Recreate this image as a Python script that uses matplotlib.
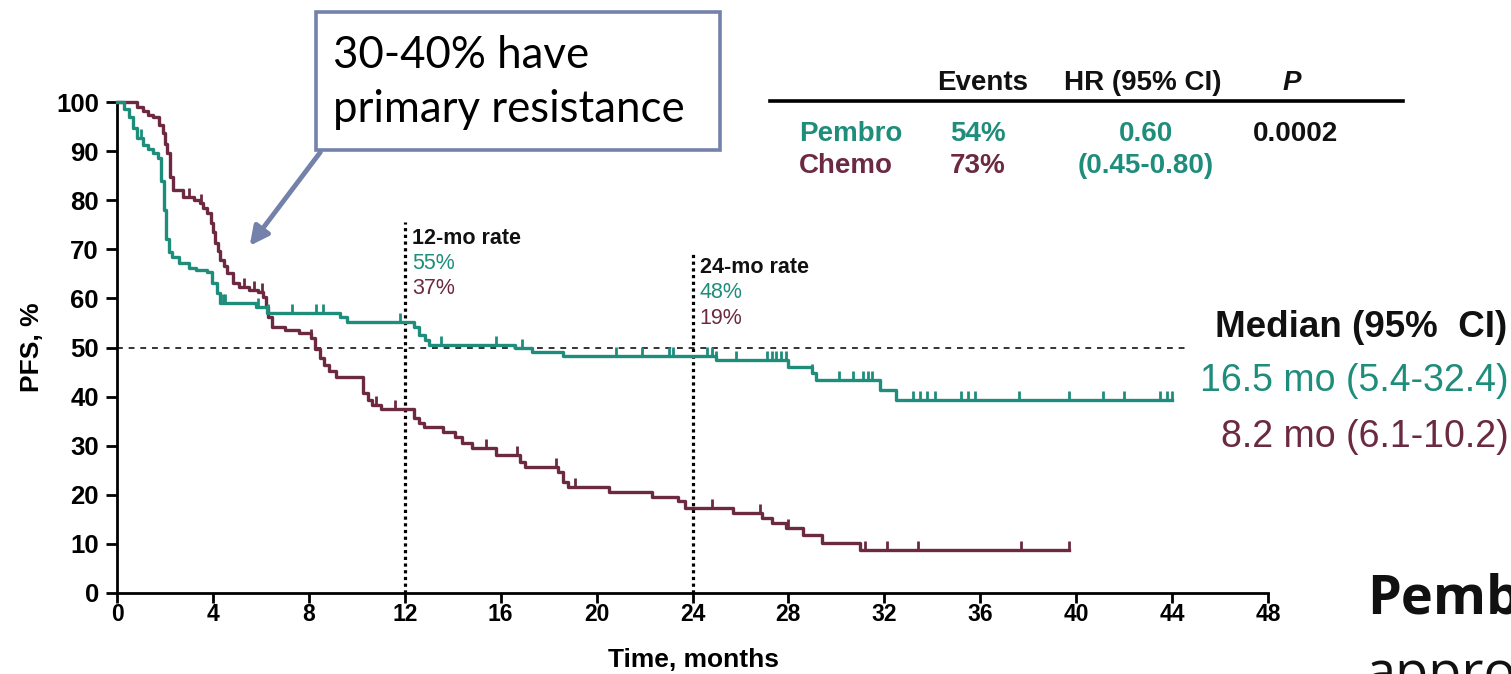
import numpy as np
import matplotlib
matplotlib.use("Agg")
import matplotlib.pyplot as plt
from matplotlib.path import Path
from matplotlib.patches import Rectangle, FancyArrowPatch

plt.rcParams['font.family'] = ['Liberation Sans', 'DejaVu Sans']

W, H, DPI = 1511, 674, 100

TEAL = "#1f8d7b"
MAROON = "#6c2942"
SLATE = "#7482ab"

# ---- Kaplan-Meier step data (months, PFS %) ----
pembro_t = [0, 0.3, 0.5, 0.67, 0.83, 1.08, 1.3, 1.5, 1.7, 1.85, 1.95, 2.05, 2.15,
            2.3, 2.6, 3.0, 3.3, 3.75, 3.95, 4.15, 4.3, 5.8, 6.25, 9.3, 9.6, 12.4,
            12.6, 12.85, 13.0, 16.6, 17.3, 18.6, 25.0, 28.0, 29.0, 29.15, 31.8, 32.5]
pembro_s = [100, 98.5, 97, 94.7, 92.7, 91.2, 90.4, 89.6, 88.6, 84, 78, 72, 69.5,
            68.4, 67.2, 66.2, 65.8, 65.4, 63.1, 61.1, 59.1, 58.2, 57.0, 56.2, 55.2, 54.2,
            52.5, 51.5, 50.5, 49.9, 49.1, 48.3, 47.5, 46.0, 44.8, 43.4, 41.3, 39.3]
pembro_end = 44.0
pembro_cens = [1.0, 4.4, 4.5, 5.9, 6.3, 7.3, 8.3, 8.6, 11.8, 13.5, 15.8, 16.9, 20.8,
               21.9, 23.0, 23.2, 24.6, 24.8, 25.0, 25.8, 27.1, 27.3, 27.5, 27.7, 27.9,
               29.0, 30.1, 30.7, 31.1, 31.3, 31.5, 33.2, 33.5, 33.8, 34.1, 35.2, 35.5,
               35.8, 37.6, 39.7, 41.1, 42.0, 43.5, 43.8, 44.0]

chemo_t = [0, 0.83, 1.1, 1.3, 1.5, 1.75, 1.9, 2.0, 2.1, 2.2, 2.35, 2.75, 3.2, 3.45,
           3.6, 3.75, 3.9, 4.0, 4.1, 4.2, 4.3, 4.45, 4.6, 4.85, 5.1, 5.5, 5.9, 6.1,
           6.2, 6.3, 6.45, 7.0, 7.6, 8.1, 8.25, 8.45, 8.65, 8.85, 9.15, 10.25, 10.45,
           10.65, 11.0, 12.4, 12.6, 12.8, 13.6, 14.1, 14.4, 14.8, 15.8, 16.8, 17.0,
           18.4, 18.6, 18.8, 20.5, 22.3, 23.4, 23.7, 25.7, 26.9, 27.3, 27.9, 28.6,
           29.4, 31.0, 31.15]
chemo_s = [100, 99, 98.2, 97.4, 97, 95.3, 93.7, 91.5, 89.6, 84.7, 82, 80.7, 80,
           79.4, 78.4, 77.4, 75.4, 73.5, 71.3, 69.6, 67.8, 66.5, 65.2, 63.1, 62.3,
           61.7, 61.3, 60.3, 58.2, 56.2, 54.2, 53.6, 53.0, 51.9, 49.6, 47.9, 46.4,
           45.2, 44.0, 40.7, 39.3, 38.3, 37.4, 35.6, 34.6, 33.8, 32.8, 31.8, 30.5,
           29.5, 28.1, 26.7, 25.7, 24.6, 22.6, 21.6, 20.6, 19.6, 18.7, 17.3, 16.3,
           15.3, 14.3, 13.2, 11.8, 10.2, 8.8, 8.8]
chemo_t = chemo_t[:len(chemo_s)]
chemo_end = 39.7
chemo_cens = [3.0, 3.5, 5.3, 5.7, 6.05, 8.1, 10.8, 11.6, 15.4, 16.7, 18.3, 19.1,
              24.8, 26.8, 28.0, 31.2, 32.1, 33.4, 37.7, 39.7]

x_ticks = list(range(0, 49, 4))
y_ticks = list(range(0, 101, 10))

landmarks = [12, 24]
landmark_tops = [75.5, 69.5]
landmark_titles = ["12-mo rate", "24-mo rate"]
landmark_pembro = ["55%", "48%"]
landmark_chemo = ["37%", "19%"]
median_line = 50

table_headers = ["Events", "HR (95% CI)", "P"]
arm_names = ["Pembro", "Chemo"]
arm_events = ["54%", "73%"]
hazard_ratio = ["0.60", "(0.45-0.80)"]
p_value = "0.0002"

median_title = "Median (95%  CI)"
median_rows = ["16.5 mo (5.4-32.4)", "8.2 mo (6.1-10.2)"]

callout_lines = ["30-40% have", "primary resistance"]


def fx(px):
    return px / W


def fy(py):
    return 1 - py / H


def step_value(t, s, x):
    i = np.searchsorted(np.asarray(t), np.asarray(x), side="right") - 1
    return np.asarray(s)[i]


fig = plt.figure(figsize=(W / DPI, H / DPI), dpi=DPI)
ax = fig.add_axes([fx(117), 1 - 593 / H, (1268 - 117) / W, (593 - 102) / H])
ax.set_xlim(0, 48)
ax.set_ylim(0, 100)

for sp in ["top", "right"]:
    ax.spines[sp].set_visible(False)
for sp in ["left", "bottom"]:
    ax.spines[sp].set_linewidth(2)
ax.set_xticks(x_ticks)
ax.set_yticks(y_ticks)
ax.tick_params(axis="both", direction="out", width=2)
ax.tick_params(axis="x", length=7, pad=0.5)
ax.tick_params(axis="y", length=8, pad=5)
for lab in ax.get_xticklabels():
    lab.set_fontweight("bold")
    lab.set_fontsize(16.5)
for lab in ax.get_yticklabels():
    lab.set_fontweight("bold")
    lab.set_fontsize(18.5)

# reference lines
ax.plot([0, 44.6], [median_line, median_line], color="#333333", lw=1.4,
        ls=(0, (3, 3)), zorder=1)
for m, top in zip(landmarks, landmark_tops):
    ax.plot([m, m], [0, top], color="black", lw=2.3, ls=(0, (1, 1.1)), zorder=1)

# survival curves
tick_marker = Path([(0, 0), (0, 1)])
for t, s, end, cens, col in [(chemo_t, chemo_s, chemo_end, chemo_cens, MAROON),
                             (pembro_t, pembro_s, pembro_end, pembro_cens, TEAL)]:
    ax.step(list(t) + [end], list(s) + [s[-1]], where="post", color=col, lw=2.4,
            clip_on=False, zorder=3)
    ax.plot(cens, step_value(t, s, cens), ls="none", marker=tick_marker,
            markersize=13, markeredgewidth=2.0, color=col, clip_on=False, zorder=3)

# landmark rate labels
for m, top, title, pv, cv in zip(landmarks, landmark_tops, landmark_titles,
                                 landmark_pembro, landmark_chemo):
    x0 = m + 0.3
    y0 = top - 3.3
    ax.text(x0, y0, title, fontsize=15.5, fontweight="bold", color="#111111",
            va="center", ha="left")
    ax.text(x0, y0 - 5.1, pv, fontsize=15.5, color=TEAL, va="center", ha="left")
    ax.text(x0, y0 - 10.2, cv, fontsize=15.5, color=MAROON, va="center", ha="left")

# axis titles
fig.text(fx(32), fy(347), "PFS, %", rotation=90, fontsize=19, fontweight="bold",
         ha="center", va="center")
fig.text(fx(693), fy(660), "Time, months", fontsize=19, fontweight="bold",
         ha="center", va="center")

# results table
tb = dict(fontsize=20, fontweight="bold", va="center")
fig.text(fx(983), fy(83), table_headers[0], ha="center", color="#111111", **tb)
fig.text(fx(1143), fy(83), table_headers[1], ha="center", color="#111111", **tb)
fig.text(fx(1292), fy(83), table_headers[2], ha="center", color="#111111",
         style="italic", **tb)
fig.add_artist(plt.Line2D([fx(770), fx(1403)], [fy(101), fy(101)],
                          color="black", lw=2.6))
for row_y, name, ev, hr, col in zip([134, 166], arm_names, arm_events,
                                    hazard_ratio, [TEAL, MAROON]):
    fig.text(fx(799), fy(row_y), name, ha="left", color=col, **tb)
    fig.text(fx(950), fy(row_y), ev, ha="left", color=col, **tb)
    fig.text(fx(1146), fy(row_y), hr, ha="center", color=TEAL, **tb)
fig.text(fx(1253), fy(134), p_value, ha="left", color="#111111", **tb)

# medians
fig.text(fx(1507), fy(327), median_title, fontsize=26.5, fontweight="bold",
         ha="right", va="center", color="#111111")
fig.text(fx(1509), fy(381), median_rows[0], fontsize=27, ha="right",
         va="center", color=TEAL)
fig.text(fx(1509), fy(437), median_rows[1], fontsize=27, ha="right",
         va="center", color=MAROON)

# callout box with arrow
fig.add_artist(Rectangle((fx(316), fy(150)), fx(720) - fx(316), fy(12) - fy(150),
                         transform=fig.transFigure, facecolor="white",
                         edgecolor=SLATE, lw=2.6, zorder=5))
fig.text(fx(333), fy(55), callout_lines[0], fontsize=31.5, family="Lato",
         ha="left", va="center", zorder=6)
fig.text(fx(333), fy(110), callout_lines[1], fontsize=31.5, family="Lato",
         ha="left", va="center", zorder=6)
fig.add_artist(FancyArrowPatch((fx(322), fy(150)), (fx(248), fy(248)),
                               transform=fig.transFigure, arrowstyle="-|>",
                               mutation_scale=28, lw=3.5, color=SLATE, zorder=5))

# slide text running off the right/bottom edge
fig.text(fx(1367), fy(613), "Pembrolizumab", fontsize=39, fontweight="bold",
         family="Open Sans", ha="left", va="baseline", color="#111111")
fig.text(fx(1366), fy(690), "approximately", fontsize=39, family="Open Sans",
         ha="left", va="baseline", color="#111111")

fig.savefig("out.png", dpi=DPI)
